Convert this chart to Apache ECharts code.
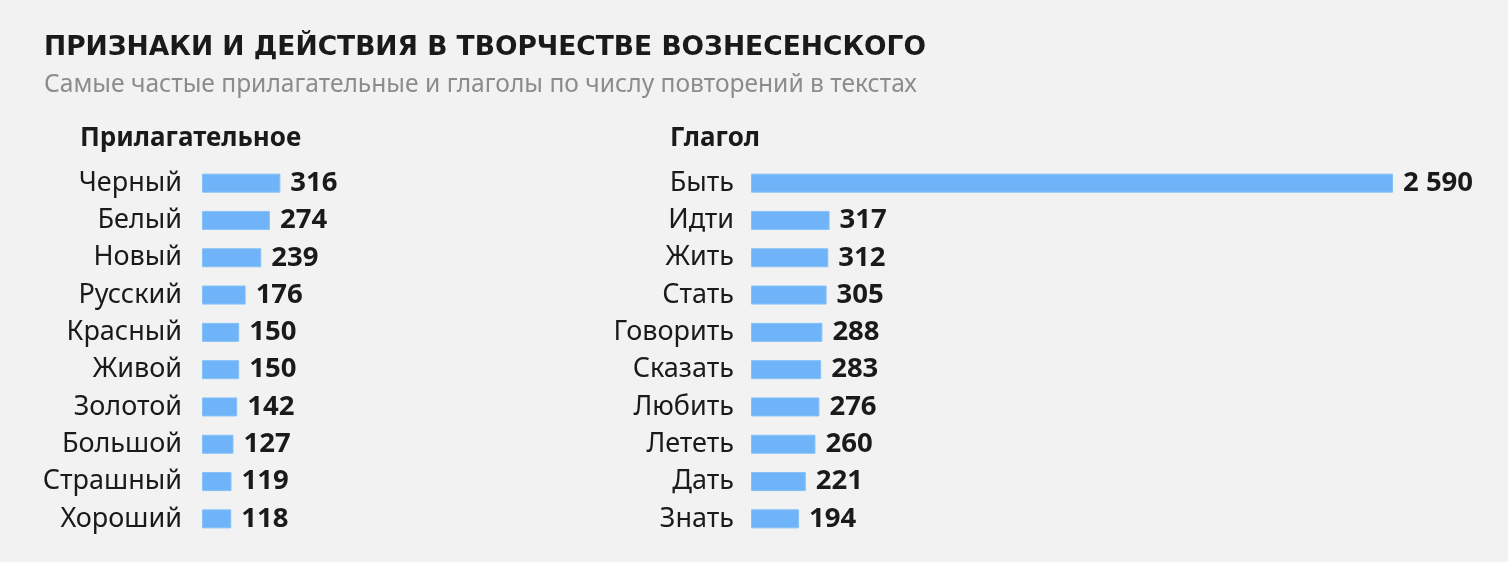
<!DOCTYPE html>
<html>
<head>
<meta charset="utf-8">
<script src="https://cdn.jsdelivr.net/npm/echarts@6/dist/echarts.min.js"></script>
<style>
html,body{margin:0;padding:0;background:#f2f2f2;}
#chart{width:1508px;height:562px;}
</style>
</head>
<body>
<div id="chart"></div>
<script>
const adjectives = ['Черный','Белый','Новый','Русский','Красный','Живой','Золотой','Большой','Страшный','Хороший'];
const adjectiveValues = [316,274,239,176,150,150,142,127,119,118];
const verbs = ['Быть','Идти','Жить','Стать','Говорить','Сказать','Любить','Лететь','Дать','Знать'];
const verbValues = [2590,317,312,305,288,283,276,260,221,194];

const FONT = '"Noto Sans", Roboto, sans-serif';
const fmt = v => String(v).replace(/\B(?=(\d{3})+(?!\d))/g, ' ');

const chart = echarts.init(document.getElementById('chart'), null, {renderer:'canvas'});
const gridTop = 164.5, gridH = 373, scaleMax = 2590, scaleW = 642;

function yAx(idx, data, margin) {
  return {
    type:'category', gridIndex:idx, data:data, inverse:true,
    axisLine:{show:false}, axisTick:{show:false}, splitLine:{show:false},
    axisLabel:{margin:margin, fontFamily:FONT, fontSize:27, color:'#1a1a1a'}
  };
}
function xAx(idx) {
  return {type:'value', gridIndex:idx, min:0, max:scaleMax, show:false, splitLine:{show:false}};
}
function barSeries(idx, vals) {
  return {
    type:'bar', xAxisIndex:idx, yAxisIndex:idx, data:vals, barWidth:19,
    itemStyle:{color:'#6fb4f8', borderColor:'#86c0f8', borderWidth:1},
    label:{show:true, position:'right', distance:10, fontFamily:FONT, fontSize:27.5, fontWeight:'bold', color:'#1a1a1a',
      formatter:p=>fmt(p.value)},
    silent:true, animation:false
  };
}

chart.setOption({
  backgroundColor:'#f2f2f2',
  animation:false,
  title:[
    {text:'ПРИЗНАКИ И ДЕЙСТВИЯ В ТВОРЧЕСТВЕ ВОЗНЕСЕНСКОГО', left:44, top:34.5, padding:0,
     textStyle:{fontFamily:'"DejaVu Sans", sans-serif', fontSize:26.5, fontWeight:'bold', color:'#1a1a1a'}},
    {text:'Самые частые прилагательные и глаголы по числу повторений в текстах', left:44, top:72.5, padding:0,
     textStyle:{fontFamily:FONT, fontSize:24.6, fontWeight:'normal', color:'#8c8c8c'}},
    {text:'Прилагательное', left:80, top:126, padding:0,
     textStyle:{fontFamily:FONT, fontSize:26, fontWeight:'bold', color:'#1a1a1a'}},
    {text:'Глагол', left:670, top:126, padding:0,
     textStyle:{fontFamily:FONT, fontSize:26, fontWeight:'bold', color:'#1a1a1a'}}
  ],
  grid:[
    {left:202, top:gridTop, width:scaleW, height:gridH},
    {left:751, top:gridTop, width:scaleW, height:gridH}
  ],
  xAxis:[xAx(0), xAx(1)],
  yAxis:[yAx(0, adjectives, 20), yAx(1, verbs, 17)],
  series:[barSeries(0, adjectiveValues), barSeries(1, verbValues)]
});
</script>
</body>
</html>
